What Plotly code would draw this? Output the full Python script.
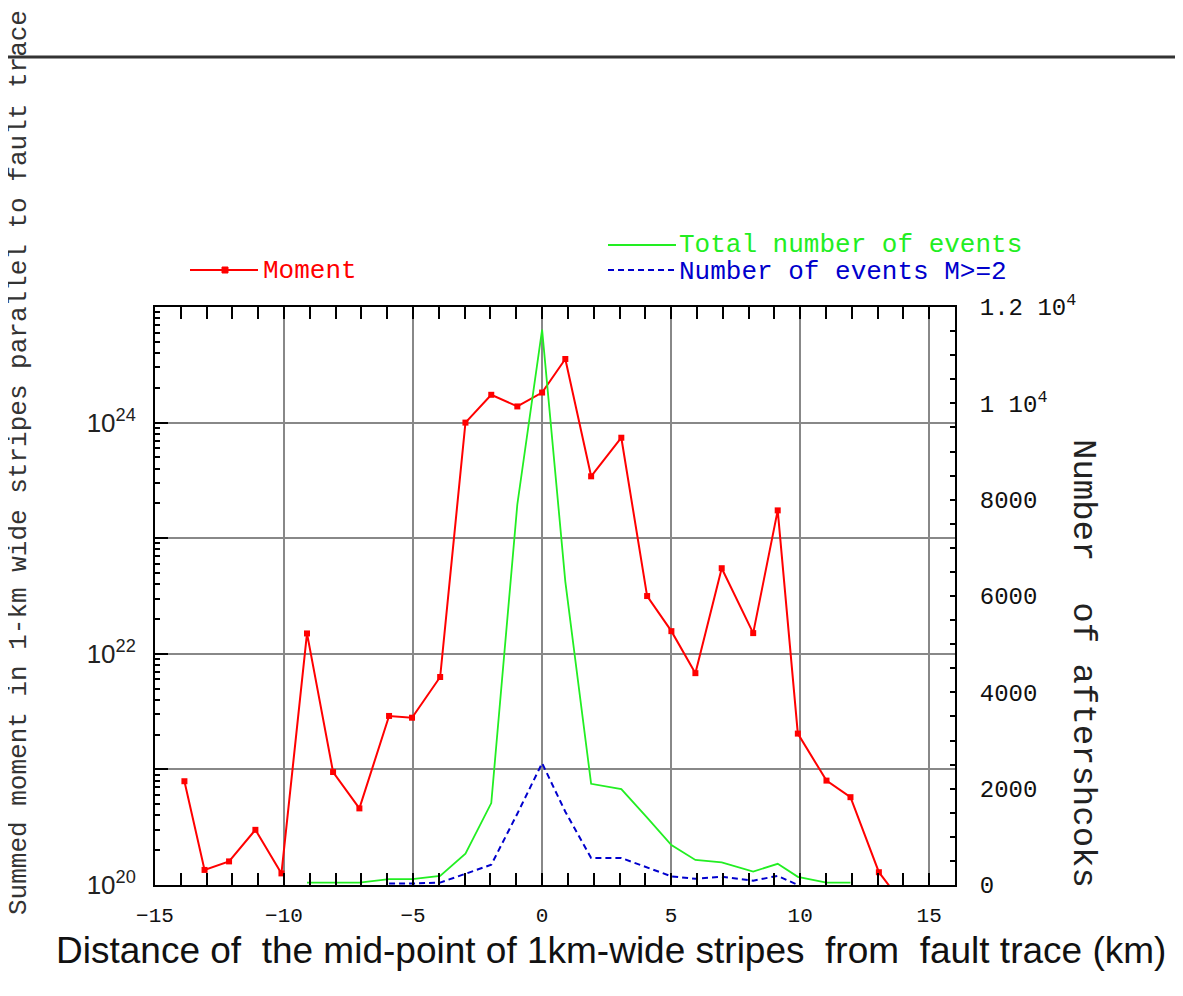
import plotly.graph_objects as go

# ---- data ----
distance_km = [-13.86, -13.08, -12.13, -11.11, -10.10, -9.11, -8.10, -7.08, -5.93, -5.04,
               -3.95, -2.97, -1.97, -0.96, 0.0, 0.90, 1.90, 3.07, 4.07, 5.01,
               5.94, 6.96, 8.18, 9.13, 9.91, 11.02, 11.95, 13.05, 14.0]

moment = [7.9e20, 1.35e20, 1.6e20, 3.0e20, 1.26e20, 1.5e22, 9.5e20, 4.6e20, 2.9e21, 2.8e21,
          6.3e21, 1.0e24, 1.74e24, 1.38e24, 1.82e24, 3.55e24, 3.43e23, 7.4e23, 3.16e22, 1.57e22,
          6.8e21, 5.5e22, 1.51e22, 1.74e23, 2.04e21, 8.0e20, 5.75e20, 1.29e20, 6.8e19]

total_x = distance_km[5:27]
total_events = [50, 50, 50, 120, 120, 190, 650, 1700, 7900, 11530, 6300,
                2100, 1990, 1400, 830, 520, 470, 280, 440, 170, 50, 50]

m2_x = distance_km[8:25]
m2_events = [30, 30, 50, 240, 420, 1480, 2530, 1520, 560, 560, 360,
             180, 130, 170, 90, 190, 0]

left_tickvals = [1e20, 1e21, 1e22, 1e23, 1e24, 1e25]
left_ticktext = ["10<sup>20</sup>", "", "10<sup>22</sup>", "", "10<sup>24</sup>", ""]
right_tickvals = [0, 2000, 4000, 6000, 8000, 10000, 12000]
right_ticktext = ["0", "2000", "4000", "6000", "8000", "1 10<sup>4</sup>", "1.2 10<sup>4</sup>"]

RED = "#ff0000"
GREEN = "#22ee22"
BLUE = "#0000cc"
MONO = "Liberation Mono, Courier New, monospace"
SANS = "Liberation Sans, Arial, sans-serif"

fig = go.Figure()
fig.add_trace(go.Scatter(x=distance_km, y=moment, mode="lines+markers", name="Moment",
                         line=dict(color=RED, width=2),
                         marker=dict(symbol="square", size=6, color=RED),
                         yaxis="y", showlegend=False))
fig.add_trace(go.Scatter(x=total_x, y=total_events, mode="lines", name="Total number of events",
                         line=dict(color=GREEN, width=1.8), yaxis="y2", showlegend=False))
fig.add_trace(go.Scatter(x=m2_x, y=m2_events, mode="lines", name="Number of events M>=2",
                         line=dict(color=BLUE, width=2, dash="6px,4px"), yaxis="y2", showlegend=False))

minor_log = [float(k) * 10.0 ** n for n in range(20, 25) for k in range(2, 10)]

# the page body adds an 8 px offset; the plot area sits at x 155..955, y 307..885 in the page
fig.update_layout(
    width=1175, height=988,
    margin=dict(l=147, r=228, t=299, b=111),
    paper_bgcolor="white", plot_bgcolor="white",
    showlegend=False,
    xaxis=dict(range=[-15, 16], tickmode="linear", tick0=-15, dtick=5,
               ticks="inside", ticklen=12, tickwidth=2, tickcolor="black",
               showline=True, linecolor="black", linewidth=2, mirror="allticks",
               showgrid=True, gridcolor="#888888", gridwidth=2, zeroline=False,
               minor=dict(dtick=1, ticks="inside", ticklen=5, tickwidth=1.5, tickcolor="black", showgrid=False),
               tickfont=dict(family=MONO, size=21, color="#111"), ticklabelstandoff=10),
    yaxis=dict(type="log", range=[20, 25], tickmode="array", tickvals=left_tickvals, ticktext=left_ticktext,
               ticks="inside", ticklen=13, tickwidth=2, tickcolor="black",
               showline=True, linecolor="black", linewidth=2,
               showgrid=True, gridcolor="#888888", gridwidth=2, zeroline=False,
               minor=dict(tickmode="array", tickvals=minor_log, ticks="inside", ticklen=5,
                          tickwidth=1.5, tickcolor="black", showgrid=False),
               tickfont=dict(family=SANS, size=26, color="#222"), ticklabelstandoff=12),
    yaxis2=dict(overlaying="y", side="right", range=[0, 12000], tickmode="array",
                tickvals=right_tickvals, ticktext=right_ticktext,
                ticks="inside", ticklen=5, tickwidth=1.5, tickcolor="black",
                showline=True, linecolor="black", linewidth=2, showgrid=False, zeroline=False,
                minor=dict(tickmode="array", tickvals=list(range(0, 12001, 500)), ticks="inside",
                           ticklen=5, tickwidth=1.5, tickcolor="black", showgrid=False),
                tickfont=dict(family=MONO, size=24, color="#111"), ticklabelstandoff=18),
)

def px_x(p):
    return (p - 155) / 800.0

def px_y(p):
    return (885 - p) / 578.0

shapes = [
    # top rule
    dict(type="line", xref="paper", yref="paper", x0=px_x(-5), x1=px_x(1190), y0=px_y(57), y1=px_y(57),
         line=dict(color="#333333", width=3)),
    # legend samples
    dict(type="line", xref="paper", yref="paper", x0=px_x(190), x1=px_x(258), y0=px_y(270), y1=px_y(270),
         line=dict(color=RED, width=2)),
    dict(type="rect", xref="paper", yref="paper", x0=px_x(222), x1=px_x(228), y0=px_y(273), y1=px_y(267),
         line=dict(color=RED, width=1), fillcolor=RED),
    dict(type="line", xref="paper", yref="paper", x0=px_x(608), x1=px_x(676), y0=px_y(245), y1=px_y(245),
         line=dict(color=GREEN, width=1.8)),
    dict(type="line", xref="paper", yref="paper", x0=px_x(608), x1=px_x(676), y0=px_y(270), y1=px_y(270),
         line=dict(color=BLUE, width=2, dash="6px,4px")),
]
fig.update_layout(shapes=shapes)

annotations = [
    dict(text="Moment", x=px_x(261), y=px_y(271), xref="paper", yref="paper", xanchor="left", yanchor="middle",
         showarrow=False, font=dict(family=MONO, size=26, color=RED)),
    dict(text="Total number of events", x=px_x(677), y=px_y(245), xref="paper", yref="paper",
         xanchor="left", yanchor="middle", showarrow=False, font=dict(family=MONO, size=26, color=GREEN)),
    dict(text="Number of events M>=2", x=px_x(677), y=px_y(272), xref="paper", yref="paper",
         xanchor="left", yanchor="middle", showarrow=False, font=dict(family=MONO, size=26, color=BLUE)),
    dict(text="Summed moment in 1-km wide stripes parallel to fault trace", x=px_x(19), y=px_y(463),
         xref="paper", yref="paper", xanchor="center", yanchor="middle", textangle=-90, showarrow=False,
         font=dict(family=MONO, size=26, color="#333")),
    dict(text="Number\u00a0 of aftershcoks", x=px_x(1083), y=px_y(663), xref="paper", yref="paper",
         xanchor="center", yanchor="middle", textangle=90, showarrow=False,
         font=dict(family=MONO, size=34, color="#222")),
    dict(text="Distance of \u00a0the mid-point of 1km-wide stripes \u00a0from \u00a0fault trace (km)",
         x=px_x(611), y=px_y(950), xref="paper", yref="paper", xanchor="center", yanchor="middle",
         showarrow=False, font=dict(family=SANS, size=37, color="#111")),
]
fig.update_layout(annotations=annotations)

fig.write_html("out.html")
